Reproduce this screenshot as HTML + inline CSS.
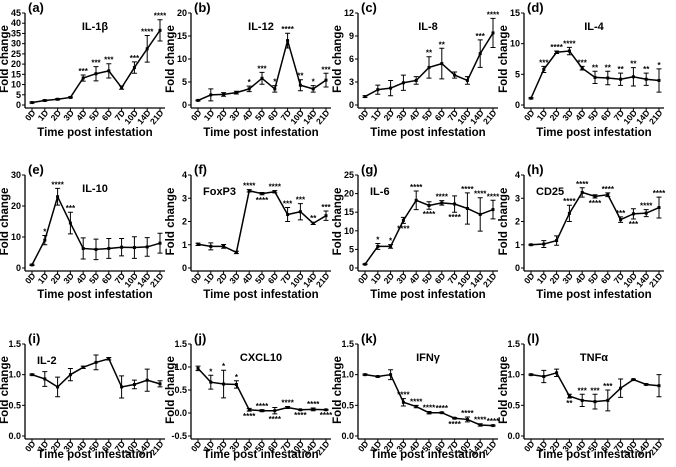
<!DOCTYPE html>
<html><head><meta charset="utf-8"><style>
body{margin:0;background:#fff;}
svg{display:block;font-family:"Liberation Sans",Arial,sans-serif;font-weight:bold;}
</style></head><body>
<svg id="fig" width="676" height="467" viewBox="0 0 676 467" xmlns="http://www.w3.org/2000/svg"></svg>
<script>
const categories = ["0D","1D","2D","3D","4D","5D","6D","7D","10D","14D","21D"];
const titles = ["IL-1\u03b2","IL-12","IL-8","IL-4","IL-10","FoxP3","IL-6","CD25","IL-2","CXCL10","IFN\u03b3","TNF\u03b1"];
const letters = ["(a)","(b)","(c)","(d)","(e)","(f)","(g)","(h)","(i)","(j)","(k)","(l)"];
const valuesA = [1.2,2.2,2.8,3.7,13.2,15.3,16.7,8.5,18.3,27.5,36.5];
const errorsA = [0.3,0.3,0.3,0.3,1.5,3.5,3.5,0.8,2.8,6.5,5.2];
const valuesB = [1,2.2,2.3,2.7,3.5,5.8,3.5,14,4.3,3.5,5.4];
const errorsB = [0.1,1.3,0.4,0.3,0.6,1.3,0.7,1.6,1.2,0.7,1.5];
const valuesC = [1.1,2,2.2,2.9,3.2,4.9,5.4,3.9,3.2,6.7,9.4];
const errorsC = [0.1,0.6,1,1,0.5,1.4,2,0.4,0.5,1.8,1.9];
const valuesD = [1.1,5.8,8.6,8.8,6,4.5,4.4,4.2,4.6,4.2,4];
const errorsD = [0.1,0.5,0.2,0.6,0.3,1,1.1,1,1.5,1,1.9];
const valuesE = [1,9,23,14.5,6.3,6,6.3,6.7,6.6,6.8,8];
const errorsE = [0.2,1.5,2.7,3.5,3.4,3.3,3.2,2.8,3.5,3,3.2];
const valuesF = [1.02,0.93,0.93,0.67,3.32,3.2,3.28,2.3,2.42,1.92,2.25];
const errorsF = [0.05,0.15,0.08,0.05,0.05,0.05,0.05,0.3,0.35,0.05,0.2];
const valuesG = [1,5.8,5.8,12.8,18.2,16.8,17.5,17.2,16,14.4,15.7];
const errorsG = [0.1,0.8,0.5,0.8,2.5,1,0.6,2.2,4.2,4.5,2.5];
const valuesH = [1,1.03,1.18,2.35,3.25,3.08,3.15,2.08,2.33,2.36,2.6];
const errorsH = [0.02,0.15,0.2,0.35,0.2,0.07,0.08,0.12,0.22,0.15,0.45];
const valuesI = [1,0.93,0.8,1,1.12,1.2,1.26,0.8,0.84,0.91,0.85];
const errorsI = [0.01,0.12,0.16,0.1,0.02,0.12,0.02,0.18,0.07,0.18,0.05];
const valuesJ = [0.97,0.67,0.63,0.62,0.07,0.05,0.05,0.12,0.07,0.08,0.07];
const errorsJ = [0.05,0.15,0.3,0.08,0.03,0.02,0.07,0.02,0.01,0.03,0.01];
const valuesK = [1,0.97,1,0.55,0.48,0.38,0.38,0.29,0.27,0.18,0.17];
const errorsK = [0.01,0.01,0.08,0.06,0.02,0.02,0.01,0.01,0.04,0.02,0.01];
const valuesL = [1,0.97,1.03,0.65,0.58,0.56,0.58,0.78,0.92,0.84,0.82];
const errorsL = [0.01,0.1,0.06,0.03,0.1,0.12,0.17,0.15,0.01,0.01,0.18];
const starsA = ["","","","","***","***","***","","***","****","****"];
const starsB = ["","","","","*","***","*","****","**","*","***"];
const starsC = ["","","","","","**","**","","","***","****"];
const starsD = ["","***","****","****","***","**","**","**","**","**","*"];
const starsE = ["","*","****","***","","","","","","",""];
const starsF = ["","","","","****","_****","****","***","***","**","***"];
const starsG = ["","*","*","_****","****","_****","****","_****","****","****","****"];
const starsH = ["","","","****","****","_****","****","***","_***","****","****"];
const starsI = ["","","","","","","","","","",""];
const starsJ = ["","*","*","*","_****","****","_****","****","_****","****","_****"];
const starsK = ["","","","****","****","****","****","_****","****","****","****"];
const starsL = ["","","","_**","***","***","***","","","",""];
const yMin = [0,0,0,0,0,0,0,0,0,-0.5,0,0];
const yMax = [45,20,12,15,30,4,25,4,1.5,1.5,1.5,1.5];
const yStep = [5,5,3,5,10,1,5,1,0.5,0.5,0.5,0.5];

const allValues=[valuesA,valuesB,valuesC,valuesD,valuesE,valuesF,valuesG,valuesH,valuesI,valuesJ,valuesK,valuesL];
const allErrors=[errorsA,errorsB,errorsC,errorsD,errorsE,errorsF,errorsG,errorsH,errorsI,errorsJ,errorsK,errorsL];
const allStars=[starsA,starsB,starsC,starsD,starsE,starsF,starsG,starsH,starsI,starsJ,starsK,starsL];
// layout
const colX=[25,191,358,524];
const rowTop=[13,175,344], rowBot=[105,268,436];
const titleOff=[28,27,19];
const titleMode=["c","c","c","c","c","l","l","l","l","c","c","c"];
const NS="http://www.w3.org/2000/svg";
const svg=document.getElementById('fig');
function mk(tag,attrs,parent){const e=document.createElementNS(NS,tag);for(const k in attrs)e.setAttribute(k,attrs[k]);(parent||svg).appendChild(e);return e;}
for(let p=0;p<12;p++){
  const r=Math.floor(p/4), c=p%4;
  const ax=colX[c], top=rowTop[r], bot=rowBot[r];
  const g=mk('g',{});
  
  
  const y=v=>bot-(v-yMin[p])/(yMax[p]-yMin[p])*(bot-top);
  const x=i=>ax+7+i*12.8;
  const xEnd=ax+140, axY=bot+3;
  const yAxis=mk('line',{x1:ax,y1:top,x2:ax,y2:axY,stroke:'#000','stroke-width':1.3},g);
  
  
  const xAxis=mk('line',{x1:ax,y1:axY,x2:xEnd,y2:axY,stroke:'#000','stroke-width':1.3},g);
  
  
  for(let v=yMin[p];v<=yMax[p]+1e-9;v+=yStep[p]){
    const yy=y(v);
    mk('line',{x1:ax-3,y1:yy,x2:ax,y2:yy,stroke:'#000','stroke-width':1},g);
    const t=mk('text',{x:ax-4,y:yy+3,'font-size':9,'text-anchor':'end'},g);
    t.textContent=(yStep[p]<1?v.toFixed(1):String(Math.round(v)));
    
    
  }
  categories.forEach((cat,i)=>{
    const xx=x(i);
    mk('line',{x1:xx,y1:axY,x2:xx,y2:axY+3,stroke:'#000','stroke-width':1},g);
    const t=mk('text',{x:xx+4,y:axY+5,'font-size':8.5,'text-anchor':'end',transform:`rotate(-50 ${xx+4} ${axY+5})`},g);
    t.textContent=cat;
    
    
  });
  const xt=mk('text',{x:ax+70,y:axY+titleOff[r],'font-size':11.5,'text-anchor':'middle'},g);
  xt.textContent='Time post infestation';
  
  
  const yc=(top+bot)/2;
  const yt=mk('text',{x:ax-17,y:yc,'font-size':11.5,'text-anchor':'middle',transform:`rotate(-90 ${ax-17} ${yc})`},g);
  yt.textContent='Fold change';
  
  
  const lt=mk('text',{x:ax+3,y:top-1,'font-size':13},g);
  lt.textContent=letters[p];
  
  
  const tt=titleMode[p]==='c'?mk('text',{x:ax+70,y:top+17,'font-size':11,'text-anchor':'middle'},g):mk('text',{x:ax+12,y:top+20,'font-size':11},g);
  tt.textContent=titles[p];
  
  
  const vals=allValues[p], errs=allErrors[p], st=allStars[p];
  const line=mk('polyline',{points:vals.map((v,i)=>x(i)+','+y(v)).join(' '),fill:'none',stroke:'#000','stroke-width':1.5},g);
  
  
  vals.forEach((v,i)=>{
    const xx=x(i), y1=y(v+errs[i]), y2=y(v-errs[i]);
    const eb=mk('path',{d:`M${xx},${y1}V${y2}M${xx-2.5},${y1}h5M${xx-2.5},${y2}h5`,stroke:'#000','stroke-width':1,fill:'none'},g);
    
    
    const pt=mk('rect',{x:xx-1.5,y:y(v)-1.5,width:3,height:3,fill:'#000'},g);
    
    
    let s=st[i];
    if(s){
      const below=s[0]==='_'; if(below)s=s.slice(1);
      const sy=below?y2+8:y1-1;
      const stx=mk('text',{x:xx,y:sy,'font-size':8,'text-anchor':'middle'},g);
      stx.textContent=s;
      
      
    }
  });
}
</script>
</body></html>
